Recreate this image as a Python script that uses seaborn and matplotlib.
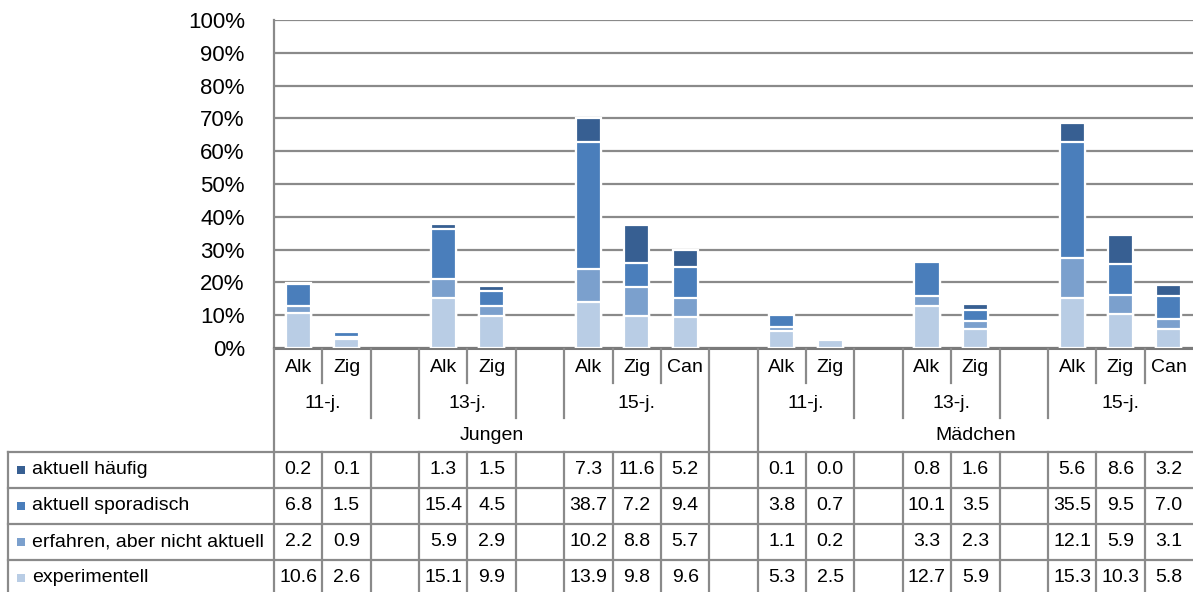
import matplotlib
matplotlib.use('Agg')
import matplotlib.pyplot as plt
import matplotlib.transforms as mtransforms
from matplotlib.lines import Line2D
from matplotlib.patches import Rectangle
from matplotlib.ticker import PercentFormatter
import numpy as np
import seaborn as sns


genders = ['Jungen', 'Mädchen']
ages = ['11-j.', '13-j.', '15-j.']
substances = [['Alk', 'Zig'], ['Alk', 'Zig'], ['Alk', 'Zig', 'Can']]

series = ['aktuell häufig', 'aktuell sporadisch', 'erfahren, aber nicht aktuell', 'experimentell']
haeufig = [0.2, 0.1, 1.3, 1.5, 7.3, 11.6, 5.2, 0.1, 0.0, 0.8, 1.6, 5.6, 8.6, 3.2]
sporadisch = [6.8, 1.5, 15.4, 4.5, 38.7, 7.2, 9.4, 3.8, 0.7, 10.1, 3.5, 35.5, 9.5, 7.0]
erfahren = [2.2, 0.9, 5.9, 2.9, 10.2, 8.8, 5.7, 1.1, 0.2, 3.3, 2.3, 12.1, 5.9, 3.1]
experimentell = [10.6, 2.6, 15.1, 9.9, 13.9, 9.8, 9.6, 5.3, 2.5, 12.7, 5.9, 15.3, 10.3, 5.8]

colors = ['#375f92', '#4a7ebb', '#7ba0cd', '#b9cde5']
grid_col = '#8a8a8a'

W, H = 1193, 592
plt.rcParams['font.family'] = ['Liberation Sans', 'DejaVu Sans']


def fy(y):
  # pixel row (from top) -> figure fraction
  return 1 - y / H


# slot layout: a blank slot after every age group
cells = []       # (position, substance)
age_spans = []   # (label, first, last)
gender_spans = []
pos = 0
for g in genders:
  g_start = pos
  for a, subs in zip(ages, substances):
    a_start = pos
    for s in subs:
      cells.append((pos, s))
      pos += 1
    age_spans.append((a, a_start, pos - 1))
    pos += 1
  gender_spans.append((g, g_start, pos - 2))
n_slots = pos - 1
positions = np.array([p for p, _ in cells], dtype=float)
gender_gap = gender_spans[0][2] + 1

fig = plt.figure(figsize=(W / 100, H / 100), dpi=100)
ax = fig.add_axes([274 / W, fy(348), (W - 274) / W, (348 - 20) / H])

stack = np.array([experimentell, erfahren, sporadisch, haeufig])
cum = stack.cumsum(axis=0)
layer_colors = colors[::-1]
for i in range(3, -1, -1):
  sns.barplot(x=positions, y=cum[i], native_scale=True, width=0.52, color=layer_colors[i],
              saturation=1, edgecolor='white', linewidth=1.6, errorbar=None, ax=ax, zorder=3)

ax.set_xlim(-0.5, n_slots - 0.5)
ax.set_ylim(0, 100)
ax.set_xticks([])
ax.set_xlabel('')
ax.set_yticks(range(0, 101, 10))
ax.yaxis.set_major_formatter(PercentFormatter(decimals=0))
ax.tick_params(axis='y', length=0, pad=21, labelsize=16)
ax.grid(axis='y', color=grid_col, lw=1.6)
ax.set_axisbelow(True)
for side in ['top', 'right']:
  ax.spines[side].set_visible(False)
ax.spines['left'].set_color(grid_col)
ax.spines['left'].set_linewidth(1.6)
ax.spines['bottom'].set_color('#7a7a7a')
ax.spines['bottom'].set_linewidth(2.2)

blend = mtransforms.blended_transform_factory(ax.transData, fig.transFigure)
lkw = dict(color=grid_col, lw=1.6)


def vline(x, y0, y1):
  fig.add_artist(Line2D([x, x], [fy(y0), fy(y1)], transform=blend, **lkw))


def hline(y, x0=8):
  fig.add_artist(Line2D([x0 / W, 1], [fy(y), fy(y)], transform=fig.transFigure, **lkw))


# header lines
occupied = {p for p, _ in cells}
age_of = {}
for a_i, (_, a0, a1) in enumerate(age_spans):
  for p in range(a0, a1 + 1):
    age_of[p] = a_i
vline(-0.5, 349, 596)
for k in range(1, n_slots):
  left, right = k - 1, k
  if left in occupied and right in occupied and age_of[left] == age_of[right]:
    vline(k - 0.5, 349, 383)
  elif gender_gap in (left, right):
    vline(k - 0.5, 349, 452)
  else:
    vline(k - 0.5, 349, 418)
  vline(k - 0.5, 452, 596)

for y in [452, 488, 524, 560]:
  hline(y)
fig.add_artist(Line2D([8 / W, 8 / W], [fy(452), fy(596)], transform=fig.transFigure, **lkw))

tkw = dict(transform=blend, ha='center', va='center', fontsize=14)
for p, s in cells:
  fig.text(p, fy(367), s, **tkw)
for a, a0, a1 in age_spans:
  fig.text((a0 + a1) / 2, fy(403), a, **tkw)
for g, g0, g1 in gender_spans:
  fig.text((g0 + g1) / 2, fy(436), g, **tkw)

row_y = [470, 506, 542, 578]
for vals, name, c, y in zip([haeufig, sporadisch, erfahren, experimentell], series, colors, row_y):
  fig.add_artist(Rectangle((17 / W, fy(y + 4)), 8 / W, 8 / H, transform=fig.transFigure,
                           facecolor=c, edgecolor='none'))
  fig.text(32 / W, fy(y), name, transform=fig.transFigure, ha='left', va='center', fontsize=14)
  for p, v in zip(positions, vals):
    fig.text(p, fy(y), f'{v:.1f}', **tkw)

fig.savefig('out.png', dpi=100)
